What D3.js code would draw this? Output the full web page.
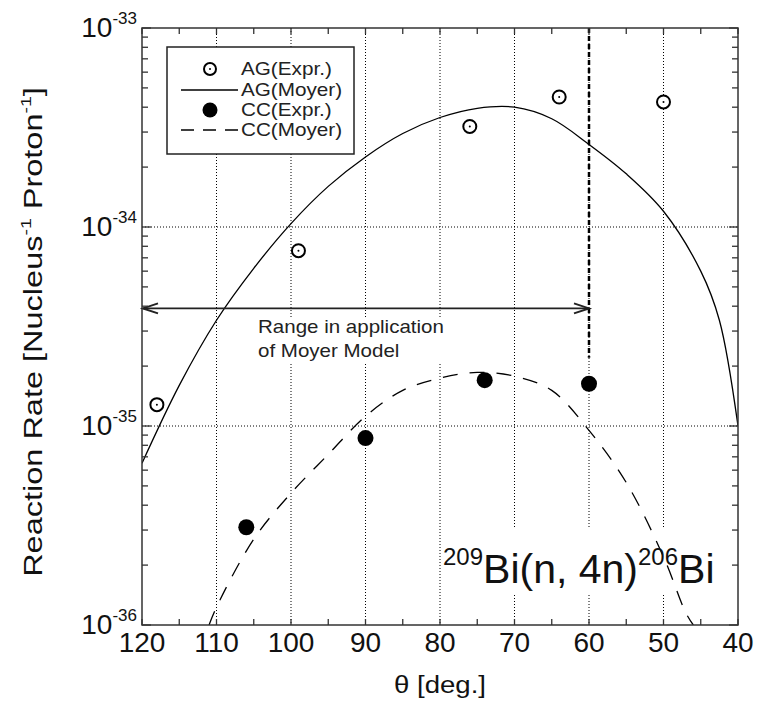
<!DOCTYPE html>
<html lang="en">
  <head>
    <meta charset="utf-8">
    <title>209Bi(n,4n)206Bi reaction rate</title>
    <script src="https://d3js.org/d3.v7.min.js" charset="utf-8"></script>
    <style>
      body { margin: 0; background: #fff; }
      text { font-family: "Liberation Sans", Arial, sans-serif; fill: #111; }
    </style>
  </head>
  <body>
    <script>
      // data
      var agExprTheta = [118, 99, 76, 64, 50];
      var agExprRate = [1.28e-35, 7.6e-35, 3.2e-34, 4.5e-34, 4.25e-34];

      var ccExprTheta = [106, 90, 74, 60];
      var ccExprRate = [3.1e-36, 8.7e-36, 1.7e-35, 1.63e-35];

      var agMoyerTheta = [120, 115, 110, 105, 100, 95, 90, 85, 80, 75, 70, 65, 60, 55, 50, 45, 42.5, 40];
      var agMoyerRate = [6.5e-36, 1.6e-35, 3.4e-35, 6.2e-35, 1.04e-34, 1.6e-34, 2.25e-34, 2.95e-34, 3.55e-34,
                         3.95e-34, 4.0e-34, 3.5e-34, 2.6e-34, 1.85e-34, 1.2e-34, 6.0e-35, 3.4e-35, 1.0e-35];

      var ccMoyerTheta = [111, 110, 105, 100, 95, 90, 85, 80, 75, 70, 65, 60, 55, 50, 47, 46];
      var ccMoyerRate = [1.0e-36, 1.23e-36, 2.7e-36, 4.6e-36, 7.2e-36, 1.12e-35, 1.51e-35, 1.74e-35, 1.86e-35,
                         1.78e-35, 1.51e-35, 9.5e-36, 5.2e-36, 2.2e-36, 1.15e-36, 1.0e-36];

      var xTicks = [120, 110, 100, 90, 80, 70, 60, 50, 40];
      var xGrid = [110, 100, 90, 80, 70, 60, 50];
      var yExponents = [-36, -35, -34, -33];
      var yGrid = [1e-35, 1e-34];
      var legendLabels = ["AG(Expr.)", "AG(Moyer)", "CC(Expr.)", "CC(Moyer)"];

      var rangeTheta = [120, 60];
      var rangeRate = 3.9e-35;
      var cutTheta = 60;
      var cutRateBottom = 2.2e-35;

      var width = 758, height = 706;
      var pL = 142, pR = 738, pT = 28, pB = 625;

      var x = d3.scaleLinear().domain([120, 40]).range([pL, pR]);
      var y = d3.scaleLog().domain([1e-36, 1e-33]).range([pB, pT]);

      var svg = d3.select("body").append("svg")
        .attr("width", width)
        .attr("height", height);

      svg.append("defs").append("clipPath").attr("id", "plot")
        .append("rect")
        .attr("x", pL).attr("y", pT)
        .attr("width", pR - pL).attr("height", pB - pT);

      // dotted grid
      svg.append("g").selectAll("line").data(xGrid).enter().append("line")
        .attr("x1", d => x(d)).attr("x2", d => x(d))
        .attr("y1", pT).attr("y2", pB)
        .attr("stroke", "#000").attr("stroke-width", 1).attr("stroke-dasharray", "1,2");
      svg.append("g").selectAll("line").data(yGrid).enter().append("line")
        .attr("x1", pL).attr("x2", pR)
        .attr("y1", d => y(d)).attr("y2", d => y(d))
        .attr("stroke", "#000").attr("stroke-width", 1).attr("stroke-dasharray", "1,2");

      // white patches behind annotations
      svg.append("rect").attr("x", 255).attr("y", 318).attr("width", 192).attr("height", 44).attr("fill", "#fff");
      svg.append("rect").attr("x", 441).attr("y", 527).attr("width", 277).attr("height", 68).attr("fill", "#fff");

      var plot = svg.append("g").attr("clip-path", "url(#plot)");

      var line = d3.line()
        .x(d => x(d[0]))
        .y(d => y(d[1]))
        .curve(d3.curveCatmullRom.alpha(0.5));

      plot.append("path")
        .attr("d", line(d3.zip(agMoyerTheta, agMoyerRate)))
        .attr("fill", "none").attr("stroke", "#000").attr("stroke-width", 1.3);

      plot.append("path")
        .attr("d", line(d3.zip(ccMoyerTheta, ccMoyerRate)))
        .attr("fill", "none").attr("stroke", "#000").attr("stroke-width", 1.3)
        .attr("stroke-dasharray", "15,12");

      // limit of the Moyer model
      plot.append("line")
        .attr("x1", x(cutTheta)).attr("x2", x(cutTheta))
        .attr("y1", pT).attr("y2", y(cutRateBottom))
        .attr("stroke", "#000").attr("stroke-width", 2.5).attr("stroke-dasharray", "5,3");

      // double arrow
      var ay = y(rangeRate), ax0 = x(rangeTheta[0]) + 1, ax1 = x(rangeTheta[1]);
      svg.append("line")
        .attr("x1", ax0).attr("x2", ax1).attr("y1", ay).attr("y2", ay)
        .attr("stroke", "#222").attr("stroke-width", 1.8);
      svg.append("path")
        .attr("d", "M" + (ax0 + 15) + "," + (ay - 5) + "L" + ax0 + "," + ay + "L" + (ax0 + 15) + "," + (ay + 5) +
                   "M" + (ax1 - 15) + "," + (ay - 5) + "L" + ax1 + "," + ay + "L" + (ax1 - 15) + "," + (ay + 5))
        .attr("fill", "none").attr("stroke", "#222").attr("stroke-width", 2);

      // experimental points
      var ag = svg.append("g").selectAll("g").data(d3.zip(agExprTheta, agExprRate)).enter().append("g")
        .attr("transform", d => "translate(" + x(d[0]) + "," + y(d[1]) + ")");
      ag.append("circle").attr("r", 6.5).attr("fill", "#fff").attr("stroke", "#000").attr("stroke-width", 2);
      ag.append("circle").attr("r", 1).attr("fill", "#000");

      svg.append("g").selectAll("circle").data(d3.zip(ccExprTheta, ccExprRate)).enter().append("circle")
        .attr("cx", d => x(d[0])).attr("cy", d => y(d[1]))
        .attr("r", 8).attr("fill", "#000");

      // frame
      svg.append("rect")
        .attr("x", pL).attr("y", pT)
        .attr("width", pR - pL).attr("height", pB - pT)
        .attr("fill", "none").attr("stroke", "#333").attr("stroke-width", 1.5);

      // ticks (inside)
      var xMinor = d3.range(40, 121, 5);
      var tk = svg.append("g").attr("stroke", "#333").attr("stroke-width", 1.3);
      xMinor.forEach(function(t) {
        tk.append("line").attr("x1", x(t)).attr("x2", x(t)).attr("y1", pB).attr("y2", pB - 6);
        tk.append("line").attr("x1", x(t)).attr("x2", x(t)).attr("y1", pT).attr("y2", pT + 6);
      });
      y.ticks().forEach(function(t) {
        var len = Math.abs(Math.log10(t) - Math.round(Math.log10(t))) < 1e-6 ? 9 : 6;
        tk.append("line").attr("x1", pL).attr("x2", pL + len).attr("y1", y(t)).attr("y2", y(t));
        tk.append("line").attr("x1", pR).attr("x2", pR - len).attr("y1", y(t)).attr("y2", y(t));
      });

      // tick labels
      svg.append("g").selectAll("text").data(xTicks).enter().append("text")
        .attr("x", d => x(d)).attr("y", pB + 27)
        .attr("text-anchor", "middle").style("font-size", "28px")
        .text(d => d);

      var yl = svg.append("g").selectAll("text").data(yExponents).enter().append("text")
        .attr("x", pL - 5).attr("y", d => y(Math.pow(10, d)) + 9)
        .attr("text-anchor", "end").style("font-size", "28px");
      yl.append("tspan").text("10");
      yl.append("tspan").attr("dy", -13).style("font-size", "17px").text(d => d);

      // axis titles
      svg.append("text")
        .attr("transform", "translate(" + x(80) + ",693) scale(1.15,1)")
        .attr("text-anchor", "middle").style("font-size", "24px")
        .text("\u03b8 [deg.]");

      var yt = svg.append("text")
        .attr("transform", "translate(42," + 332 + ") rotate(-90) scale(1.3,1)")
        .attr("text-anchor", "middle").style("font-size", "25px");
      yt.append("tspan").text("Reaction Rate [Nucleus");
      yt.append("tspan").attr("dy", -11).style("font-size", "15px").text("-1");
      yt.append("tspan").attr("dy", 11).text(" Proton");
      yt.append("tspan").attr("dy", -11).style("font-size", "15px").text("-1");
      yt.append("tspan").attr("dy", 11).text("]");

      // annotations
      var rt = svg.append("text")
        .attr("transform", "translate(258,333) scale(1.14,1)")
        .style("font-size", "18px").style("fill", "#222");
      rt.append("tspan").attr("x", 0).text("Range in application");
      rt.append("tspan").attr("x", 0).attr("dy", 24).text("of Moyer Model");

      var rx = svg.append("text")
        .attr("x", 443).attr("y", 583)
        .style("font-size", "41px");
      rx.append("tspan").attr("dy", -18).style("font-size", "24px").text("209");
      rx.append("tspan").attr("dy", 18).text("Bi(n, 4n)");
      rx.append("tspan").attr("dy", -18).style("font-size", "24px").text("206");
      rx.append("tspan").attr("dy", 18).text("Bi");

      // legend
      var lg = svg.append("g");
      lg.append("rect")
        .attr("x", 167).attr("y", 47).attr("width", 187).attr("height", 107)
        .attr("fill", "#fff").attr("stroke", "#222").attr("stroke-width", 1.5);
      var rows = [69, 90, 110, 130];
      legendLabels.forEach(function(lab, i) {
        var ry = rows[i];
        if (i === 0) {
          lg.append("circle").attr("cx", 210).attr("cy", ry).attr("r", 6).attr("fill", "#fff")
            .attr("stroke", "#000").attr("stroke-width", 2);
          lg.append("circle").attr("cx", 210).attr("cy", ry).attr("r", 1).attr("fill", "#000");
        } else if (i === 2) {
          lg.append("circle").attr("cx", 210).attr("cy", ry).attr("r", 7.5).attr("fill", "#000");
        } else {
          lg.append("line").attr("x1", 181).attr("x2", 238).attr("y1", ry).attr("y2", ry)
            .attr("stroke", "#000").attr("stroke-width", 1.3)
            .attr("stroke-dasharray", i === 3 ? "13,9" : null);
        }
        lg.append("text")
          .attr("transform", "translate(241," + (ry + 6) + ") scale(1.15,1)")
          .style("font-size", "18px").style("fill", "#222")
          .text(lab);
      });
    </script>
  </body>
</html>
